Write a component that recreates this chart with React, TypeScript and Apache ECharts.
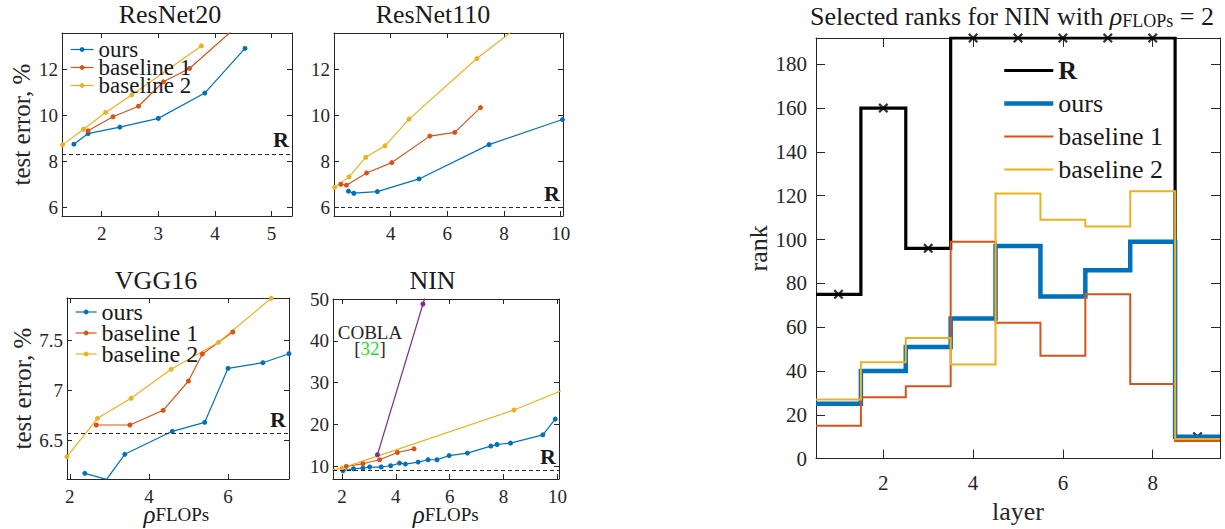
import { useEffect, useRef } from 'react';
import * as echarts from 'echarts';

const SERIF = 'Liberation Serif, Times New Roman, serif';
const INK = '#262626';
const BLUE = '#0072BD';
const ORANGE = '#D95319';
const YELLOW = '#EDB120';
const PURPLE = '#7E2F8E';

// ---------- ResNet20 ----------
const r20OursX = [1.51, 1.76, 2.32, 3.0, 3.82, 4.53];
const r20OursY = [8.74, 9.2, 9.48, 9.86, 10.96, 12.9];
const r20B1X = [1.76, 2.2, 2.65, 3.09, 3.55, 4.5];
const r20B1Y = [9.32, 9.93, 10.39, 11.45, 12.03, 14.1];
const r20B2X = [1.31, 1.68, 2.07, 2.53, 3.76];
const r20B2Y = [8.71, 9.39, 10.12, 10.88, 13.01];
const r20R = 8.32;

// ---------- ResNet110 ----------
const r110OursX = [2.51, 2.7, 3.53, 5.0, 7.47, 10.06];
const r110OursY = [6.7, 6.61, 6.68, 7.23, 8.72, 9.81];
const r110B1X = [2.24, 2.44, 3.15, 4.04, 5.38, 6.26, 7.17];
const r110B1Y = [7.0, 6.96, 7.49, 7.94, 9.09, 9.25, 10.33];
const r110B2X = [2.02, 2.53, 3.12, 3.8, 4.65, 7.04, 9.0];
const r110B2Y = [6.86, 7.32, 8.17, 8.67, 9.83, 12.46, 14.32];
const r110R = 6.0;

// ---------- VGG16 ----------
const vggOursX = [2.38, 2.93, 3.39, 4.59, 5.41, 6.0, 6.88, 7.54];
const vggOursY = [6.167, 6.107, 6.357, 6.587, 6.677, 7.217, 7.273, 7.363];
const vggB1X = [2.67, 3.52, 4.36, 5.0, 5.35, 6.12];
const vggB1Y = [6.65, 6.65, 6.797, 7.09, 7.36, 7.58];
const vggB2X = [1.93, 2.7, 3.55, 4.56, 5.76, 7.09];
const vggB2Y = [6.333, 6.717, 6.917, 7.207, 7.477, 7.917];
const vggR = 6.567;

// ---------- NIN ----------
const ninOursX = [2.04, 2.43, 2.78, 3.03, 3.46, 3.81, 4.14, 4.36, 4.83, 5.2, 5.53, 5.98, 6.66, 7.53, 7.76, 8.26, 9.46, 9.92];
const ninOursY = [8.98, 9.45, 9.6, 9.86, 9.86, 10.17, 10.8, 10.56, 11.05, 11.6, 11.6, 12.6, 13.19, 14.86, 15.24, 15.57, 17.55, 21.3];
const ninB1X = [2.16, 2.78, 3.4, 4.06, 4.68];
const ninB1Y = [10.0, 10.64, 11.6, 13.33, 14.2];
const ninB2X = [1.5, 2.0, 8.39, 10.5];
const ninB2Y = [9.0, 9.6, 23.49, 29.0];
const ninCoblaX = [3.32, 5.01, 5.5];
const ninCoblaY = [12.8, 48.8, 59.0];
const ninR = 9.05;

// ---------- Selected ranks ----------
const layers = [1, 2, 3, 4, 5, 6, 7, 8, 9];
const rankR = [75, 160, 96, 192, 192, 192, 192, 192, 10];
const rankOurs = [25, 40, 51, 64, 97, 74, 86, 99, 10];
const rankB1 = [15, 28, 33, 99, 62, 47, 75, 34, 8];
const rankB2 = [27, 44, 55, 43, 121, 109, 106, 122, 9];

// ---------- ticks ----------
const r20XTicks = [2, 3, 4, 5];
const r110XTicks = [4, 6, 8, 10];
const errYTicks = [6, 8, 10, 12];
const vggXTicks = [2, 4, 6];
const vggYTicks = [6.5, 7, 7.5];
const ninXTicks = [2, 4, 6, 8, 10];
const ninYTicks = [10, 20, 30, 40, 50];
const rankXTicks = [2, 4, 6, 8];
const rankYTicks = [0, 20, 40, 60, 80, 100, 120, 140, 160, 180];

const pts = (xs: number[], ys: number[]) => xs.map((x, i) => [x, ys[i]]);
// stairs: value of layer k spans [k-0.5, k+0.5]
const stairs = (vals: number[]) => {
  const d = layers.map((l, i) => [l - 0.5, vals[i]]);
  d.push([layers[layers.length - 1] + 0.5, vals[vals.length - 1]]);
  return d;
};

export default function App() {
  const ref = useRef<HTMLDivElement>(null);
  useEffect(() => {
    const chart = echarts.init(ref.current!, null, { renderer: 'svg' });

    const panels = [
      { left: 62, top: 33, width: 230, height: 183, x: [1.3, 5.36], y: [5.62, 13.57], xt: r20XTicks, yt: errYTicks, tick: 5, fs: 19, xm: 10, ym: 4, yName: 'test error, %', yGap: 28 },
      { left: 334, top: 33, width: 229, height: 183, x: [2.0, 10.08], y: [5.62, 13.57], xt: r110XTicks, yt: errYTicks, tick: 5, fs: 19, xm: 10, ym: 4 },
      { left: 67, top: 298, width: 222, height: 181, x: [1.93, 7.54], y: [6.11, 7.92], xt: vggXTicks, yt: vggYTicks, tick: 5, fs: 19, xm: 10, ym: 4, yName: 'test error, %', yGap: 32 },
      { left: 333, top: 299, width: 226, height: 180, x: [1.67, 10.06], y: [7, 50], xt: ninXTicks, yt: ninYTicks, tick: 5, fs: 19, xm: 10, ym: 4 },
      { left: 816, top: 38, width: 404, height: 425, x: [0.5, 9.5], y: [0, 192], xt: rankXTicks, yt: rankYTicks, tick: 9, fs: 21, xm: 16, ym: 9, yName: 'rank', yGap: 43, xName: 'layer', xGap: 33 },
    ];

    const grid: any[] = [];
    const xAxis: any[] = [];
    const yAxis: any[] = [];
    panels.forEach((p: any, i) => {
      grid.push({ left: p.left, top: p.top, width: p.width, height: p.height, containLabel: false });
      const line = { show: true, onZero: false, lineStyle: { color: INK, width: 1 } };
      const lab = { fontFamily: SERIF, fontSize: p.fs, lineHeight: p.fs - 5, color: INK };
      const base = (ticks: number[], showLab: boolean, margin: number) => ({
        type: 'value', gridIndex: i, axisLine: line,
        axisTick: { show: true, inside: true, length: p.tick, customValues: ticks, lineStyle: { color: INK, width: 1 } },
        axisLabel: showLab ? { show: true, customValues: ticks, margin, ...lab } : { show: false },
        splitLine: { show: false },
      });
      xAxis.push({ ...base(p.xt, true, p.xm), position: 'bottom', min: p.x[0], max: p.x[1],
        name: p.xName || '', nameLocation: 'middle', nameGap: p.xGap || 0,
        nameTextStyle: { fontFamily: SERIF, fontSize: 26, color: INK } });
      xAxis.push({ ...base(p.xt, false, 0), position: 'top', min: p.x[0], max: p.x[1] });
      yAxis.push({ ...base(p.yt, true, p.ym), position: 'left', min: p.y[0], max: p.y[1],
        name: p.yName || '', nameLocation: 'middle', nameGap: p.yGap || 0, nameRotate: 90,
        nameTextStyle: { fontFamily: SERIF, fontSize: p.yName === 'rank' ? 26 : 25, color: INK } });
      yAxis.push({ ...base(p.yt, false, 0), position: 'right', min: p.y[0], max: p.y[1] });
    });

    const rLine = (v: number) => ({
      silent: true, symbol: ['none', 'none'], data: [{ yAxis: v }],
      lineStyle: { color: INK, type: [4, 3], width: 1.2 },
      label: { show: true, position: 'insideEndTop', formatter: 'R', fontFamily: SERIF, fontWeight: 'bold', fontSize: 22, color: '#1a1a1a', distance: 3 },
    });

    const ln = (name: string, xs: number[], ys: number[], color: string, gi: number, extra: any = {}) => ({
      type: 'line', name, xAxisIndex: 2 * gi, yAxisIndex: 2 * gi, data: pts(xs, ys),
      symbol: 'circle', symbolSize: 5, showSymbol: true, clip: true,
      lineStyle: { color, width: 1.2 }, itemStyle: { color }, ...extra,
    });

    const step = (name: string, vals: number[], color: string, width: number) => ({
      type: 'line', name, xAxisIndex: 8, yAxisIndex: 8, data: stairs(vals), step: 'end',
      symbol: 'none', showSymbol: false, clip: true,
      lineStyle: { color, width, join: 'miter', cap: 'butt' }, itemStyle: { color },
    });

    const series: any[] = [
      ln('ours|r20', r20OursX, r20OursY, BLUE, 0, { markLine: rLine(r20R) }),
      ln('baseline 1|r20', r20B1X, r20B1Y, ORANGE, 0),
      ln('baseline 2|r20', r20B2X, r20B2Y, YELLOW, 0),

      ln('ours|r110', r110OursX, r110OursY, BLUE, 1, { markLine: rLine(r110R) }),
      ln('baseline 1|r110', r110B1X, r110B1Y, ORANGE, 1),
      ln('baseline 2|r110', r110B2X, r110B2Y, YELLOW, 1),

      ln('ours|vgg', vggOursX, vggOursY, BLUE, 2, { markLine: rLine(vggR) }),
      ln('baseline 1|vgg', vggB1X, vggB1Y, ORANGE, 2),
      ln('baseline 2|vgg', vggB2X, vggB2Y, YELLOW, 2),

      ln('ours|nin', ninOursX, ninOursY, BLUE, 3, { markLine: rLine(ninR) }),
      ln('baseline 1|nin', ninB1X, ninB1Y, ORANGE, 3),
      ln('baseline 2|nin', ninB2X, ninB2Y, YELLOW, 3),
      ln('COBLA|nin', ninCoblaX, ninCoblaY, PURPLE, 3),

      step('R|rank', rankR, '#000000', 3.2),
      {
        type: 'scatter', name: 'Rmark', xAxisIndex: 8, yAxisIndex: 8,
        data: layers.map((l, i) => [l, rankR[i]]),
        symbol: 'path://M0,1.6L1.6,0L5,3.4L8.4,0L10,1.6L6.6,5L10,8.4L8.4,10L5,6.6L1.6,10L0,8.4L3.4,5Z',
        symbolSize: 10, itemStyle: { color: '#000000' }, clip: false,
      },
      step('ours|rank', rankOurs, BLUE, 4.5),
      step('baseline 1|rank', rankB1, ORANGE, 2),
      step('baseline 2|rank', rankB2, YELLOW, 2),
    ];

    const fmt = (n: string) => n.split('|')[0];
    const legend = [
      {
        data: ['ours|r20', 'baseline 1|r20', 'baseline 2|r20'], orient: 'vertical', left: 70, top: 38,
        itemWidth: 23, itemHeight: 6, itemGap: -5, selectedMode: false, formatter: fmt,
        lineStyle: { width: 'inherit' }, padding: 0,
        textStyle: { fontFamily: SERIF, fontSize: 23, lineHeight: 23, color: '#1a1a1a' },
      },
      {
        data: ['ours|vgg', 'baseline 1|vgg', 'baseline 2|vgg'], orient: 'vertical', left: 75, top: 300,
        itemWidth: 21, itemHeight: 6, itemGap: -3, selectedMode: false, formatter: fmt,
        lineStyle: { width: 'inherit' }, padding: 0,
        textStyle: { fontFamily: SERIF, fontSize: 24, lineHeight: 24, color: '#1a1a1a' },
      },
      {
        data: ['R|rank', 'ours|rank', 'baseline 1|rank', 'baseline 2|rank'], orient: 'vertical', left: 1002, top: 54,
        itemWidth: 49, itemHeight: 8, itemGap: 0, selectedMode: false,
        formatter: (n: string) => (n === 'R|rank' ? '{b|R}' : fmt(n)),
        lineStyle: { width: 'inherit' }, itemStyle: { opacity: 0 }, padding: 0,
        textStyle: { fontFamily: SERIF, fontSize: 26, lineHeight: 33, color: '#1a1a1a',
          rich: { b: { fontFamily: SERIF, fontSize: 26, fontWeight: 'bold', lineHeight: 33, color: '#1a1a1a' } } },
      },
    ];

    const titleText = (text: string, x: number, y: number) => ({
      type: 'text', x, y, silent: true,
      style: { text, x: 0, y: 0, align: 'center', verticalAlign: 'middle', fontFamily: SERIF, fontSize: 26, fill: '#1a1a1a' },
    });
    const rhoRich = {
      r: { fontFamily: SERIF, fontStyle: 'italic', fontSize: 25, lineHeight: 19, fill: '#1a1a1a', verticalAlign: 'middle' },
      s: { fontFamily: SERIF, fontSize: 19, lineHeight: 7, fill: '#1a1a1a', verticalAlign: 'bottom' },
    };
    const rhoLabel = (x: number, y: number) => ({
      type: 'text', x, y, silent: true,
      style: { text: '{r|ρ}{s|FLOPs}', x: 0, y: 0, align: 'center', verticalAlign: 'middle', rich: rhoRich, fontFamily: SERIF, fontSize: 25 },
    });

    const graphic = [
      titleText('ResNet20', 170, 14.5),
      titleText('ResNet110', 433, 14.5),
      titleText('VGG16', 156, 280.5),
      titleText('NIN', 432.5, 280.5),
      {
        type: 'text', x: 1012, y: 16.5, silent: true,
        style: {
          text: 'Selected ranks for NIN with {r|ρ}{s|FLOPs} = 2', x: 0, y: 0, align: 'center', verticalAlign: 'middle',
          fontFamily: SERIF, fontSize: 26, lineHeight: 26, fill: '#1a1a1a',
          rich: {
            r: { fontFamily: SERIF, fontStyle: 'italic', fontSize: 26, lineHeight: 26, fill: '#1a1a1a' },
            s: { fontFamily: SERIF, fontSize: 18, lineHeight: 14, fill: '#1a1a1a', verticalAlign: 'bottom' },
          },
        },
      },
      rhoLabel(176.3, 514.5),
      rhoLabel(445.7, 514.5),
      {
        type: 'text', x: 370, y: 340.6, silent: true,
        style: {
          text: 'COBLA\n[{g|32}]', x: 0, y: 0, align: 'center', verticalAlign: 'middle',
          fontFamily: SERIF, fontSize: 19, lineHeight: 16, fill: INK,
          rich: { g: { fontFamily: SERIF, fontSize: 19, lineHeight: 16, fill: '#19e619' } },
        },
      },
    ];

    chart.setOption({
      animation: false,
      backgroundColor: '#ffffff',
      textStyle: { fontFamily: SERIF },
      grid, xAxis, yAxis, series, legend, graphic,
    });
    return () => chart.dispose();
  }, []);
  return <div ref={ref} style={{ position: 'fixed', left: 0, top: 0, width: 1225, height: 529, background: '#fff' }} />;
}
